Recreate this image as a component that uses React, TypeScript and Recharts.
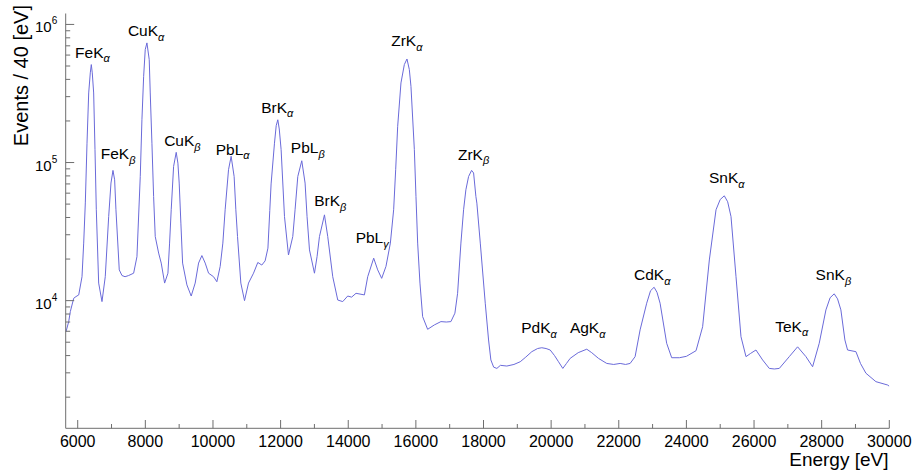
import React from 'react';
import { LineChart, Line, XAxis, YAxis, ReferenceDot } from 'recharts';

const energies = [
  5654, 5734, 5781, 5882, 5950, 6030, 6127, 6177, 6225, 6275, 6325, 6372, 6402, 6431, 6472, 6511, 6550, 6620, 6718, 6815,
  6916, 6984, 7043, 7092, 7131, 7229, 7309, 7400, 7506, 7654, 7752, 7850, 7899, 7950, 7997, 8047, 8115, 8145, 8195, 8245,
  8293, 8393, 8470, 8570, 8668, 8717, 8765, 8836, 8913, 8963, 9001, 9051, 9102, 9229, 9356, 9474, 9574, 9672, 9770, 9870,
  10017, 10115, 10213, 10292, 10360, 10460, 10537, 10626, 10676, 10726, 10824, 10933, 11051, 11199, 11326, 11444, 11542, 11625, 11680, 11719,
  11819, 11870, 11917, 11960, 12015, 12115, 12233, 12360, 12428, 12508, 12626, 12724, 12782, 12854, 13001, 13078, 13149, 13297, 13394, 13542,
  13690, 13837, 13985, 14100, 14230, 14478, 14576, 14753, 14871, 14989, 15116, 15246, 15343, 15403, 15462, 15559, 15659, 15737, 15807, 15855,
  15955, 16003, 16053, 16121, 16200, 16348, 16546, 16741, 16900, 17036, 17154, 17234, 17332, 17411, 17479, 17559, 17648, 17707, 17775, 17804,
  17905, 18052, 18150, 18218, 18300, 18395, 18500, 18690, 18900, 19086, 19250, 19429, 19600, 19724, 19850, 19972, 20100, 20218, 20345, 20450,
  20563, 20800, 21054, 21200, 21399, 21645, 21850, 22041, 22200, 22336, 22483, 22631, 22826, 22940, 23045, 23130, 23222, 23417, 23565, 23792,
  24000, 24285, 24480, 24678, 24876, 25000, 25121, 25220, 25319, 25467, 25614, 25762, 25900, 26057, 26254, 26451, 26600, 26747, 27042, 27288,
  27535, 27732, 27928, 28126, 28250, 28371, 28470, 28568, 28687, 28766, 29013, 29150, 29309, 29604, 29948, 30000,
];

const counts = [
  5960, 7050, 8320, 10400, 10700, 11000, 14900, 26100, 51000, 138000, 319000, 446000, 512000, 446000, 319000, 124000, 45500, 13400, 9840, 14900,
  40600, 71000, 87700, 75000, 45500, 16700, 15200, 14900, 15200, 15800, 20800, 79200, 204000, 421000, 658000, 735000, 556000, 319000, 138000, 56700,
  29100, 22100, 18700, 13400, 15800, 26100, 45500, 93700, 118500, 99000, 71000, 36400, 18700, 13000, 10800, 13400, 18700, 21200, 18700, 15800,
  14900, 13700, 17700, 26100, 45500, 88700, 111000, 79200, 45500, 29100, 13400, 10000, 13400, 15800, 18900, 18100, 19400, 24000, 45000, 70000,
  138000, 185000, 204000, 175000, 124000, 40600, 21400, 29100, 45500, 79200, 103000, 71000, 40600, 23300, 15800, 20800, 29100, 41800, 29100, 14900,
  10100, 9840, 10800, 10600, 11300, 11000, 14900, 20300, 16700, 14500, 17700, 26100, 45500, 88700, 183000, 377000, 512000, 562000, 471000, 356000,
  124000, 56700, 26100, 13400, 7660, 6200, 6670, 7050, 7000, 7050, 8110, 11300, 26100, 45500, 63500, 79200, 87700, 84000, 56700, 50800,
  26100, 9580, 5190, 3720, 3300, 3230, 3400, 3360, 3450, 3610, 3900, 4270, 4500, 4560, 4500, 4390, 4000, 3610, 3230, 3500,
  3820, 4200, 4450, 4200, 3820, 3510, 3450, 3510, 3450, 3510, 3930, 6140, 9580, 11800, 12500, 11500, 9580, 4910, 3860, 3860,
  3950, 4340, 6470, 19700, 45500, 54000, 57400, 52000, 40600, 14900, 5480, 3930, 4150, 4390, 3720, 3230, 3200, 3230, 3930, 4630,
  3930, 3320, 4910, 8570, 10500, 11200, 10300, 8570, 5190, 4390, 4270, 3500, 2980, 2590, 2450, 2400,
];

const xTicks = [
  6000, 7000, 8000, 9000, 10000, 11000, 12000, 13000, 14000, 15000, 16000, 17000, 18000,
  19000, 20000, 21000, 22000, 23000, 24000, 25000, 26000, 27000, 28000, 29000, 30000,
];

const yTicks = [
  2000, 3000, 4000, 5000, 6000, 7000, 8000, 9000,
  10000, 20000, 30000, 40000, 50000, 60000, 70000, 80000, 90000,
  100000, 200000, 300000, 400000, 500000, 600000, 700000, 800000, 900000,
  1000000,
];

const labelMain = ['FeK', 'CuK', 'FeK', 'CuK', 'PbL', 'BrK', 'PbL', 'BrK', 'PbL', 'ZrK', 'ZrK', 'PdK', 'AgK', 'CdK', 'SnK', 'TeK', 'SnK'];
const labelSub = ['α', 'α', 'β', 'β', 'α', 'α', 'β', 'β', 'γ', 'α', 'β', 'α', 'α', 'α', 'α', 'α', 'β'];
const labelEnergy = [6437, 8023, 7196, 9096, 10582, 11902, 12803, 13468, 14708, 15733, 17707, 19642, 21081, 22989, 25195, 27115, 28347];
const labelCount = [573000, 820000, 106000, 131000, 114000, 229000, 117000, 48100, 26100, 695000, 105000, 5810, 5810, 14100, 71000, 5960, 14100];

const rows = energies.map((e, i) => ({ e, c: counts[i] }));

const FONT = '"Liberation Sans", Arial, Helvetica, sans-serif';
const AXIS = '#6e6e6e';
const LINE = '#6a6ad9';

const XTick = (props: any) => {
  const { x, y, payload } = props;
  const v = payload.value;
  const major = v % 2000 === 0;
  return (
    <g>
      <line x1={x} x2={x} y1={y} y2={y - (major ? 8.3 : 4.3)} stroke={AXIS} strokeWidth={1} />
      {major && (
        <text x={x} y={y + 18.4} textAnchor="middle" fontSize={16} fill="#000" fontFamily={FONT}>
          {v}
        </text>
      )}
    </g>
  );
};

const YTick = (props: any) => {
  const { x, y, payload } = props;
  const v = payload.value;
  const ex = Math.log10(v);
  const major = Math.abs(ex - Math.round(ex)) < 1e-9;
  return (
    <g>
      <line x1={x} x2={x + (major ? 8.5 : 4.5)} y1={y} y2={y} stroke={AXIS} strokeWidth={1} />
      {major && (
        <text x={x - 8.5} y={y + 8} textAnchor="end" fill="#000" fontFamily={FONT}>
          <tspan fontSize={15}>10</tspan>
          <tspan fontSize={10} dy={-8}>{Math.round(ex)}</tspan>
        </text>
      )}
    </g>
  );
};

const PeakLabel = (main: string, sub: string) => (props: any) => {
  const { cx, cy } = props;
  return (
    <text x={cx} y={cy} textAnchor="middle" fill="#000" fontFamily={FONT} fontSize={15.5}>
      <tspan>{main}</tspan>
      <tspan fontSize={11} fontStyle="italic" dy={4.5}>{sub}</tspan>
    </text>
  );
};

export default function App() {
  return (
    <div style={{ position: 'absolute', left: 0, top: 0, width: 915, height: 475, background: '#fff' }}>
      <LineChart
        width={915}
        height={475}
        data={rows}
        margin={{ top: 13.5, right: 25.7, bottom: 0, left: 0 }}
      >
        <XAxis
          dataKey="e"
          type="number"
          scale="linear"
          domain={[5645, 30000]}
          allowDataOverflow
          ticks={xTicks}
          interval={0}
          height={46.7}
          tickSize={0}
          tickMargin={0}
          tickLine={false}
          axisLine={{ stroke: AXIS, strokeWidth: 1 }}
          tick={<XTick />}
        />
        <XAxis
          xAxisId="top"
          orientation="top"
          dataKey="e"
          type="number"
          domain={[5645, 30000]}
          height={0}
          tick={false}
          tickLine={false}
          axisLine={{ stroke: AXIS, strokeWidth: 1 }}
        />
        <YAxis
          type="number"
          scale="log"
          domain={[1190, 1200000]}
          allowDataOverflow
          ticks={yTicks}
          interval={0}
          width={65.7}
          tickSize={0}
          tickMargin={0}
          tickLine={false}
          axisLine={{ stroke: AXIS, strokeWidth: 1 }}
          tick={<YTick />}
        />
        <YAxis
          yAxisId="right"
          orientation="right"
          type="number"
          scale="log"
          domain={[1190, 1200000]}
          width={0}
          tick={false}
          tickLine={false}
          axisLine={{ stroke: AXIS, strokeWidth: 1 }}
        />
        <Line
          dataKey="c"
          type="linear"
          stroke={LINE}
          strokeWidth={1}
          dot={false}
          activeDot={false}
          isAnimationActive={false}
        />
        {labelMain.map((m, i) => (
          <ReferenceDot
            key={i}
            x={labelEnergy[i]}
            y={labelCount[i]}
            r={0}
            ifOverflow="visible"
            shape={PeakLabel(m, labelSub[i])}
          />
        ))}
      </LineChart>
      <svg width={915} height={475} style={{ position: 'absolute', left: 0, top: 0, pointerEvents: 'none' }}>
        <text x={888.5} y={465.5} textAnchor="end" fontSize={19} fill="#000" fontFamily={FONT}>
          Energy [eV]
        </text>
        <text
          x={0}
          y={0}
          transform="translate(28,5) rotate(-90)"
          textAnchor="end"
          fontSize={20}
          fill="#000"
          fontFamily={FONT}
        >
          Events / 40 [eV]
        </text>
      </svg>
    </div>
  );
}
